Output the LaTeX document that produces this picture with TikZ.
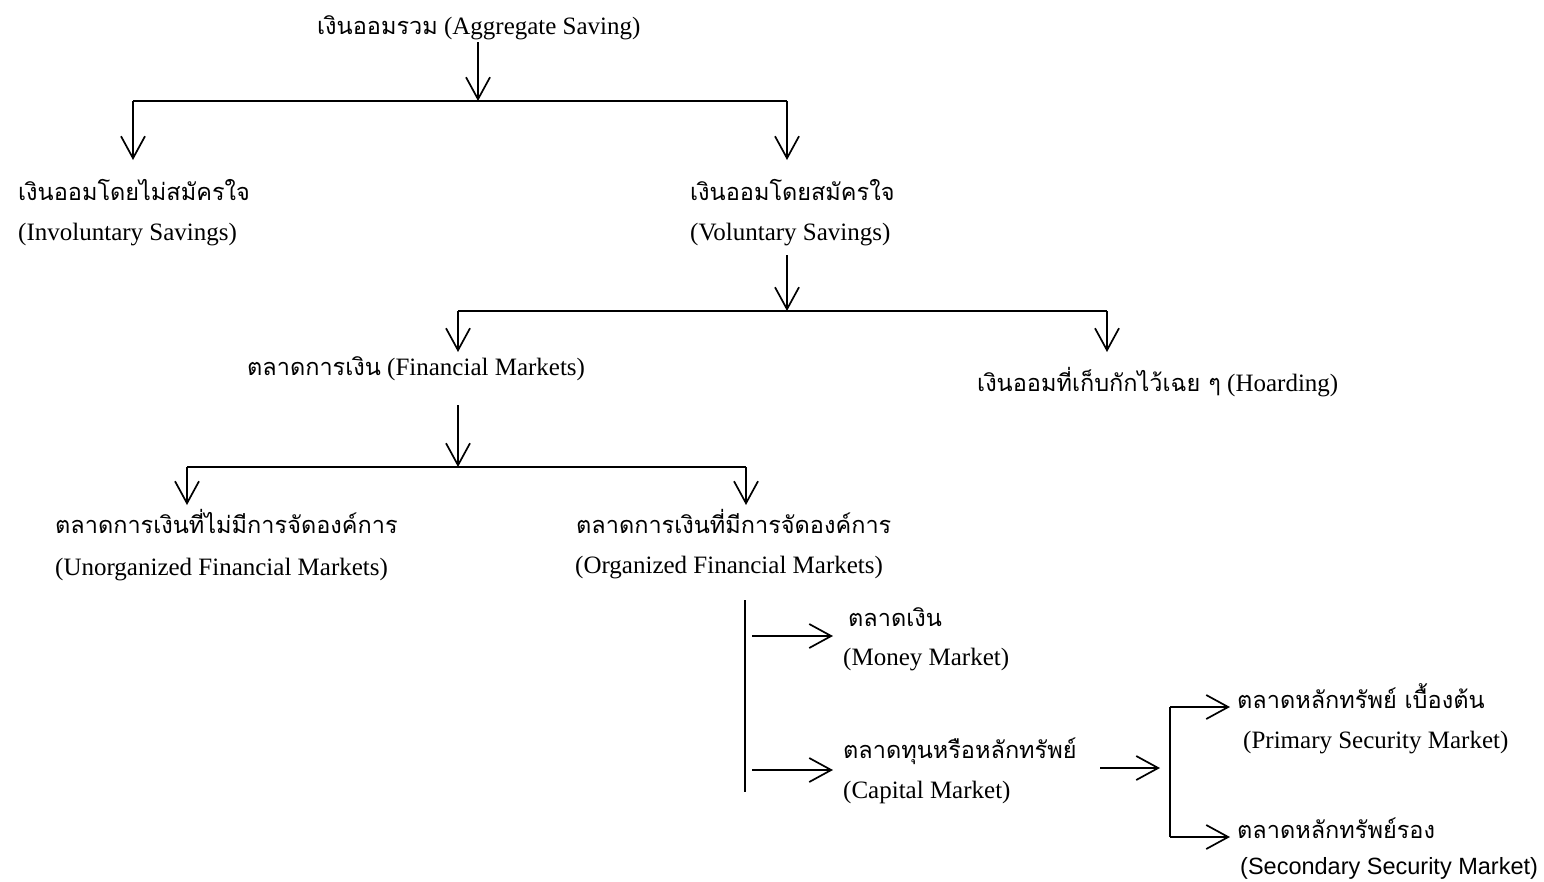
\documentclass[tikz,border=0pt]{standalone}
\usepackage{fontspec}
\setmainfont{Liberation Serif}
\newfontfamily\thaifont[Script=Thai,Scale=0.94]{Loma}
\newfontfamily\arialfont{Liberation Sans}
\usetikzlibrary{arrows.meta}
\newcommand{\thx}[1]{{\thaifont #1}}
\tikzset{
  conn/.style={line width=1.7pt},
  arr/.style={conn,-{Straight Barb[length=22pt,width=24pt,line width=1.7pt]}},
  lbl/.style={anchor=base west,inner sep=0pt,font=\fontsize{25}{30}\selectfont},
}
\begin{document}
\begin{tikzpicture}[x=1pt,y=-1pt]
\useasboundingbox[fill=white] (0,0) rectangle (1544,881);
% labels
\node[lbl] (agg) at (317,34) {\thx{เงินออมรวม} (Aggregate Saving)};
\node[lbl] (inv) at (18,200) {\thx{เงินออมโดยไม่สมัครใจ}};
\node[lbl] (invE) at (18,240) {(Involuntary Savings)};
\node[lbl] (vol) at (690,200) {\thx{เงินออมโดยสมัครใจ}};
\node[lbl] (volE) at (690,240) {(Voluntary Savings)};
\node[lbl] (fin) at (247,375) {\thx{ตลาดการเงิน} (Financial Markets)};
\node[lbl] (hoard) at (977,391) {\thx{เงินออมที่เก็บกักไว้เฉย ๆ} (Hoarding)};
\node[lbl] (unorg) at (55,533) {\thx{ตลาดการเงินที่ไม่มีการจัดองค์การ}};
\node[lbl] (unorgE) at (55,575) {(Unorganized Financial Markets)};
\node[lbl] (org) at (576,533) {\thx{ตลาดการเงินที่มีการจัดองค์การ}};
\node[lbl] (orgE) at (575,573) {(Organized Financial Markets)};
\node[lbl] (mon) at (848,626) {\thx{ตลาดเงิน}};
\node[lbl] (monE) at (843,665) {(Money Market)};
\node[lbl] (cap) at (843,758) {\thx{ตลาดทุนหรือหลักทรัพย์}};
\node[lbl] (capE) at (843,798) {(Capital Market)};
\node[lbl] (prim) at (1237,708) {\thx{ตลาดหลักทรัพย์ เบื้องต้น}};
\node[lbl] (primE) at (1243,748) {(Primary Security Market)};
\node[lbl] (sec) at (1237,838) {\thx{ตลาดหลักทรัพย์รอง}};
\node[lbl,font=\arialfont\fontsize{23.5}{28}\selectfont] (secE) at (1240,874) {(Secondary Security Market)};
% junction coordinates
\coordinate (a0) at (478,42);
\coordinate (j0) at (478,101);
\coordinate (j0l) at (133,101);
\coordinate (j0r) at (787,101);
\coordinate (t0l) at (133,160);
\coordinate (t0r) at (787,160);
\coordinate (a1) at (787,255);
\coordinate (j1) at (787,311);
\coordinate (j1l) at (458,311);
\coordinate (j1r) at (1107,311);
\coordinate (t1l) at (458,352);
\coordinate (t1r) at (1107,352);
\coordinate (a2) at (458,405);
\coordinate (j2) at (458,467);
\coordinate (j2l) at (187,467);
\coordinate (j2r) at (746,467);
\coordinate (t2l) at (187,505);
\coordinate (t2r) at (746,505);
\coordinate (v3t) at (745,600);
\coordinate (v3b) at (745,792);
\coordinate (m0) at (752,636);
\coordinate (m1) at (833,636);
\coordinate (c0) at (752,770);
\coordinate (c1) at (833,770);
\coordinate (s0) at (1100,768);
\coordinate (s1) at (1160,768);
\coordinate (bt) at (1170,707);
\coordinate (bb) at (1170,837);
\coordinate (pt) at (1230,707);
\coordinate (st) at (1230,837);
% connectors
\draw[arr] (a0) -- (j0);
\draw[conn] (j0l) -- (j0r);
\draw[arr] (j0l) -- (t0l);
\draw[arr] (j0r) -- (t0r);
\draw[arr] (a1) -- (j1);
\draw[conn] (j1l) -- (j1r);
\draw[arr] (j1l) -- (t1l);
\draw[arr] (j1r) -- (t1r);
\draw[arr] (a2) -- (j2);
\draw[conn] (j2l) -- (j2r);
\draw[arr] (j2l) -- (t2l);
\draw[arr] (j2r) -- (t2r);
\draw[conn] (v3t) -- (v3b);
\draw[arr] (m0) -- (m1);
\draw[arr] (c0) -- (c1);
\draw[arr] (s0) -- (s1);
\draw[conn] (bt) -- (bb);
\draw[arr] (bt) -- (pt);
\draw[arr] (bb) -- (st);
\end{tikzpicture}
\end{document}
